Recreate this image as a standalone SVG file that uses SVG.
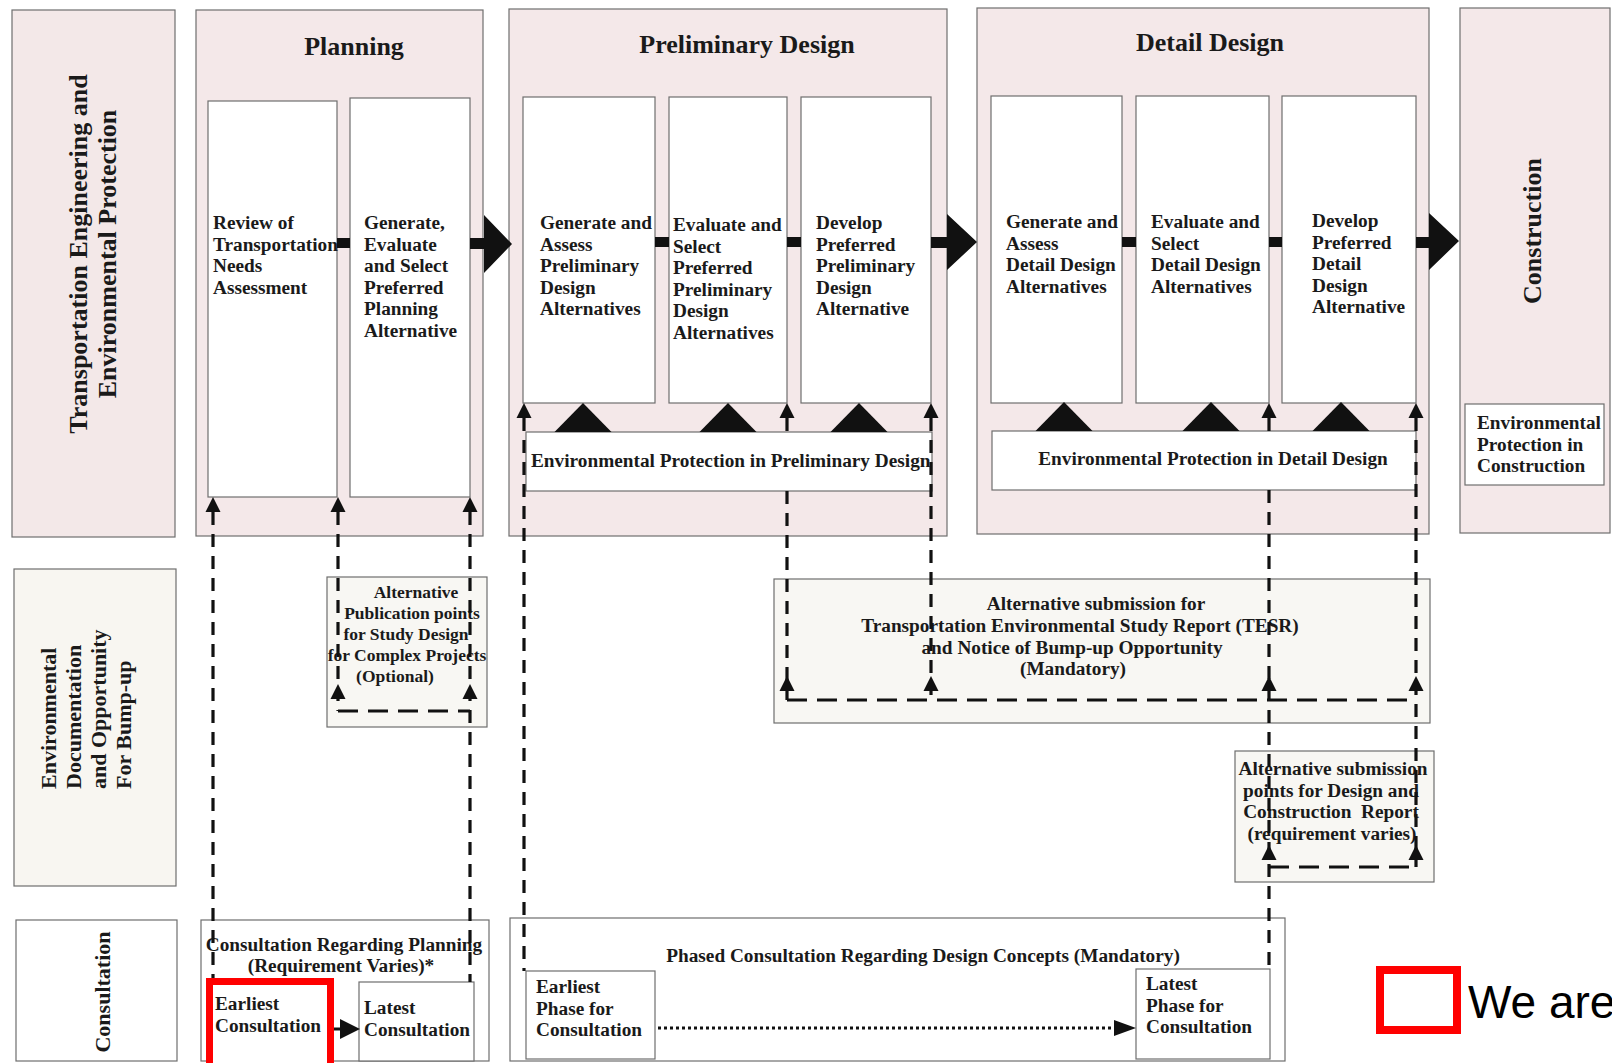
<svg xmlns="http://www.w3.org/2000/svg" xmlns:xlink="http://www.w3.org/1999/xlink" width="1612" height="1063" viewBox="0 0 1612 1063">
<style>
.panel{fill:#f4e8e9;stroke:#6e6e6e;stroke-width:1.2}
.lane{fill:#f3e8e8;stroke:#6e6e6e;stroke-width:1.2}
.lane2{fill:#f8f6f1;stroke:#6e6e6e;stroke-width:1.2}
.box{fill:#ffffff;stroke:#6e6e6e;stroke-width:1.2}
.note{fill:#f8f7f3;stroke:#6e6e6e;stroke-width:1.2}
.t{font-family:"Liberation Serif","Times New Roman",serif;font-weight:bold;font-size:19.3px;fill:#1a1a1a}
.title{font-size:26px}
.lbl{font-size:22px}
.sm{font-size:17.5px}
.mid{text-anchor:middle}
.dash{fill:none;stroke:#111;stroke-width:3.2;stroke-dasharray:13 9}
.hdash{fill:none;stroke:#111;stroke-width:3.2;stroke-dasharray:20 10}
.dot{fill:none;stroke:#111;stroke-width:3;stroke-dasharray:3 3}
.blk{fill:#111}
</style>
<defs>
<path id="ah" d="M-7.5,0 L7.5,0 L0,-15 Z" fill="#111"/>
<path id="tri" d="M-28.5,0 L28.5,0 L0,-29 Z" fill="#111"/>
</defs>
<rect width="1612" height="1063" fill="#ffffff"/>

<!-- Lane headers -->
<g id="lane-engineering">
<rect class="lane" x="12" y="10" width="163" height="527"/>
<text class="t title mid" transform="translate(87,254) rotate(-90)">Transportation Engineering and</text>
<text class="t title mid" transform="translate(116,254) rotate(-90)">Environmental Protection</text>
</g>
<g id="lane-documentation">
<rect class="lane2" x="14" y="569" width="162" height="317"/>
<text class="t lbl" transform="translate(56,789) rotate(-90)">Environmental</text>
<text class="t lbl" transform="translate(81,789) rotate(-90)">Documentation</text>
<text class="t lbl" transform="translate(106,789) rotate(-90)">and Opportunity</text>
<text class="t lbl" transform="translate(131,789) rotate(-90)">For Bump-up</text>
</g>
<g id="lane-consultation">
<rect class="box" x="16" y="920" width="161" height="141"/>
<text class="t lbl mid" transform="translate(110,992) rotate(-90)">Consultation</text>
</g>

<!-- Planning -->
<g id="planning">
<rect class="panel" x="196" y="10" width="287" height="526"/>
<text class="t title mid" x="354" y="55">Planning</text>
<g id="review-needs">
<rect class="box" x="208" y="101" width="129" height="396"/>
<text class="t" x="213" y="229">Review of<tspan x="213" dy="21.5">Transportation</tspan><tspan x="213" dy="21.5">Needs</tspan><tspan x="213" dy="21.5">Assessment</tspan></text>
</g>
<g id="select-planning">
<rect class="box" x="350" y="98" width="120" height="399"/>
<text class="t" x="364" y="229">Generate,<tspan x="364" dy="21.5">Evaluate</tspan><tspan x="364" dy="21.5">and Select</tspan><tspan x="364" dy="21.5">Preferred</tspan><tspan x="364" dy="21.5">Planning</tspan><tspan x="364" dy="21.5">Alternative</tspan></text>
</g>
</g>

<!-- Preliminary Design -->
<g id="preliminary">
<rect class="panel" x="509" y="9" width="438" height="527"/>
<text class="t title mid" x="747" y="53">Preliminary Design</text>
<g id="pd-generate">
<rect class="box" x="523" y="97" width="132" height="306"/>
<text class="t" x="540" y="229">Generate and<tspan x="540" dy="21.5">Assess</tspan><tspan x="540" dy="21.5">Preliminary</tspan><tspan x="540" dy="21.5">Design</tspan><tspan x="540" dy="21.5">Alternatives</tspan></text>
</g>
<g id="pd-evaluate">
<rect class="box" x="669" y="97" width="118" height="306"/>
<text class="t" x="673" y="231">Evaluate and<tspan x="673" dy="21.5">Select</tspan><tspan x="673" dy="21.5">Preferred</tspan><tspan x="673" dy="21.5">Preliminary</tspan><tspan x="673" dy="21.5">Design</tspan><tspan x="673" dy="21.5">Alternatives</tspan></text>
</g>
<g id="pd-develop">
<rect class="box" x="801" y="97" width="130" height="306"/>
<text class="t" x="816" y="229">Develop<tspan x="816" dy="21.5">Preferred</tspan><tspan x="816" dy="21.5">Preliminary</tspan><tspan x="816" dy="21.5">Design</tspan><tspan x="816" dy="21.5">Alternative</tspan></text>
</g>
<g id="pd-env">
<rect class="box" x="526" y="432" width="406" height="59"/>
<text class="t" x="531" y="467">Environmental Protection in Preliminary Design</text>
</g>
</g>

<!-- Detail Design -->
<g id="detail">
<rect class="panel" x="977" y="8" width="452" height="526"/>
<text class="t title mid" x="1210" y="51">Detail Design</text>
<g id="dd-generate">
<rect class="box" x="991" y="96" width="131" height="307"/>
<text class="t" x="1006" y="228">Generate and<tspan x="1006" dy="21.5">Assess</tspan><tspan x="1006" dy="21.5">Detail Design</tspan><tspan x="1006" dy="21.5">Alternatives</tspan></text>
</g>
<g id="dd-evaluate">
<rect class="box" x="1136" y="96" width="133" height="307"/>
<text class="t" x="1151" y="228">Evaluate and<tspan x="1151" dy="21.5">Select</tspan><tspan x="1151" dy="21.5">Detail Design</tspan><tspan x="1151" dy="21.5">Alternatives</tspan></text>
</g>
<g id="dd-develop">
<rect class="box" x="1282" y="96" width="134" height="307"/>
<text class="t" x="1312" y="227">Develop<tspan x="1312" dy="21.5">Preferred</tspan><tspan x="1312" dy="21.5">Detail</tspan><tspan x="1312" dy="21.5">Design</tspan><tspan x="1312" dy="21.5">Alternative</tspan></text>
</g>
<g id="dd-env">
<rect class="box" x="992" y="431" width="424" height="59"/>
<text class="t mid" x="1213" y="465">Environmental Protection in Detail Design</text>
</g>
</g>

<!-- Construction -->
<g id="construction">
<rect class="panel" x="1460" y="8" width="150" height="525"/>
<text class="t title mid" transform="translate(1541,231) rotate(-90)">Construction</text>
<g id="con-env">
<rect class="box" x="1465" y="404" width="139" height="81"/>
<text class="t" x="1477" y="429">Environmental<tspan x="1477" dy="21.5">Protection in</tspan><tspan x="1477" dy="21.5">Construction</tspan></text>
</g>
</g>

<!-- Row 2 notes -->
<g id="alt-publication">
<rect class="note" x="327" y="577" width="160" height="150"/>
<text class="t sm mid" x="416" y="598">Alternative</text>
<text class="t sm mid" x="412" y="619">Publication points</text>
<text class="t sm mid" x="406" y="640">for Study Design</text>
<text class="t sm mid" x="407" y="661">for Complex Projects</text>
<text class="t sm mid" x="395" y="682">(Optional)</text>
</g>
<g id="tesr">
<rect class="note" x="774" y="579" width="656" height="144"/>
<text class="t mid" x="1096" y="610">Alternative submission for</text>
<text class="t mid" x="1080" y="632">Transportation Environmental Study Report (TESR)</text>
<text class="t mid" x="1072" y="654">and Notice of Bump-up Opportunity</text>
<text class="t mid" x="1073" y="675">(Mandatory)</text>
</g>
<g id="alt-submission">
<rect class="note" x="1235" y="751" width="199" height="131"/>
<text class="t mid" x="1333" y="775">Alternative submission</text>
<text class="t mid" x="1331" y="797">points for Design and</text>
<text class="t mid" x="1331" y="818" style="white-space:pre">Construction  Report</text>
<text class="t mid" x="1332" y="840">(requirement varies)</text>
</g>

<!-- Row 3 consultation -->
<g id="consult-planning">
<rect class="box" x="201" y="920" width="288" height="141"/>
<text class="t mid" x="344" y="951">Consultation Regarding Planning</text>
<text class="t mid" x="341" y="972">(Requirement Varies)*</text>
</g>
<g id="earliest-consultation">
<rect x="209.5" y="981.5" width="121" height="90" fill="#ffffff" stroke="#ff0000" stroke-width="7"/>
<text class="t" x="215" y="1010">Earliest<tspan x="215" dy="22">Consultation</tspan></text>
</g>
<g id="latest-consultation">
<rect class="box" x="359" y="982" width="115" height="79"/>
<text class="t" x="364" y="1014">Latest<tspan x="364" dy="21.5">Consultation</tspan></text>
</g>
<g id="phased-consultation">
<rect class="box" x="510" y="918" width="775" height="143"/>
<text class="t mid" x="923" y="962">Phased Consultation Regarding Design Concepts (Mandatory)</text>
</g>
<g id="earliest-phase">
<rect class="box" x="526" y="971" width="129" height="88"/>
<text class="t" x="536" y="993">Earliest<tspan x="536" dy="21.5">Phase for</tspan><tspan x="536" dy="21.5">Consultation</tspan></text>
</g>
<g id="latest-phase">
<rect class="box" x="1136" y="969" width="134" height="90"/>
<text class="t" x="1146" y="990">Latest<tspan x="1146" dy="21.5">Phase for</tspan><tspan x="1146" dy="21.5">Consultation</tspan></text>
</g>

<!-- Legend -->
<g id="legend">
<rect x="1380" y="970" width="77" height="60" fill="#ffffff" stroke="#ff0000" stroke-width="8"/>
<text x="1468" y="1018" font-family="'Liberation Sans',Arial,sans-serif" font-size="46" fill="#000">We are</text>
</g>

<!-- Connectors -->
<g id="connectors">
<!-- solid links between step boxes -->
<rect class="blk" x="337" y="238" width="13" height="10"/>
<rect class="blk" x="655" y="237" width="14" height="10"/>
<rect class="blk" x="787" y="237" width="14" height="10"/>
<rect class="blk" x="1122" y="237" width="14" height="10"/>
<rect class="blk" x="1269" y="237" width="13" height="10"/>
<!-- phase arrows -->
<path class="blk" d="M470,238 H484 V215 L512,244 L484,273 V249 H470 Z"/>
<path class="blk" d="M931,237 H947 V214 L977,242 L947,270 V248 H931 Z"/>
<path class="blk" d="M1416,237 H1429 V213 L1459,241 L1429,270 V248 H1416 Z"/>
<!-- environmental protection triangles -->
<use href="#tri" x="583" y="432"/>
<use href="#tri" x="728" y="432"/>
<use href="#tri" x="859" y="432"/>
<use href="#tri" x="1064" y="431"/>
<use href="#tri" x="1211" y="431"/>
<use href="#tri" x="1341" y="431"/>
<!-- dashed verticals -->
<path class="dash" d="M213,512 V978"/>
<path class="dash" d="M338,512 V711"/>
<path class="dash" d="M470,512 V982"/>
<path class="dash" d="M524,418 V971"/>
<path class="dash" d="M787,418 V432 M787,491 V700"/>
<path class="dash" d="M931,418 V700"/>
<path class="dash" d="M1269,418 V431 M1269,490 V969"/>
<path class="dash" d="M1416,418 V867"/>
<!-- dashed horizontals -->
<path class="hdash" d="M338,711 H470"/>
<path class="hdash" d="M787,700 H1416"/>
<path class="hdash" d="M1269,867 H1416"/>
<!-- arrowheads -->
<use href="#ah" x="213" y="512"/>
<use href="#ah" x="338" y="512"/>
<use href="#ah" x="470" y="512"/>
<use href="#ah" x="524" y="418"/>
<use href="#ah" x="787" y="418"/>
<use href="#ah" x="931" y="418"/>
<use href="#ah" x="1269" y="418"/>
<use href="#ah" x="1416" y="418"/>
<use href="#ah" x="338" y="699"/>
<use href="#ah" x="470" y="699"/>
<use href="#ah" x="787" y="691"/>
<use href="#ah" x="931" y="691"/>
<use href="#ah" x="1269" y="691"/>
<use href="#ah" x="1416" y="691"/>
<use href="#ah" x="1269" y="860"/>
<use href="#ah" x="1416" y="860"/>
<!-- consultation arrows -->
<path d="M334,1029 H342" stroke="#111" stroke-width="3"/>
<path class="blk" d="M340,1019 L360,1029 L340,1039 Z"/>
<path class="dot" d="M658,1028 H1114"/>
<path class="blk" d="M1114,1020 L1136,1028 L1114,1036 Z"/>
</g>
</svg>
